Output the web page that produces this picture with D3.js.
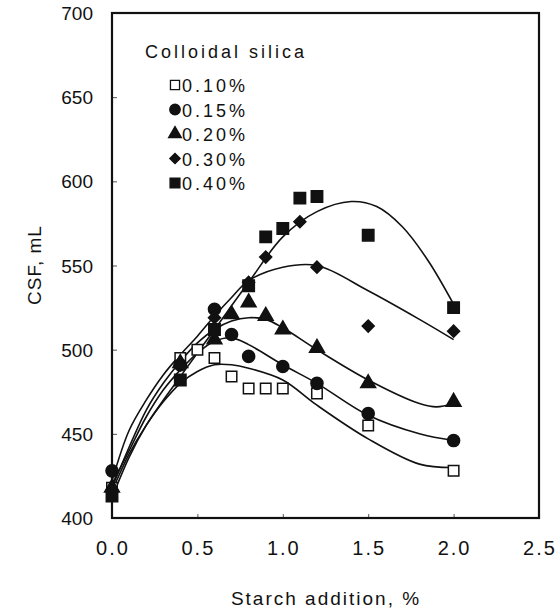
<!DOCTYPE html>
<html>
<head>
<meta charset="utf-8">
<script src="https://cdn.jsdelivr.net/npm/d3@7"></script>
<style>
  body { margin: 0; background: #fff; }
  svg text { font-family: "Liberation Sans", Arial, sans-serif; fill: #111; }
</style>
</head>
<body>
<div id="chart"></div>
<script>
// measured points, [starch %, CSF mL]
const silica = ["0.10%", "0.15%", "0.20%", "0.30%", "0.40%"];

const pts010 = [[0,418],[0.4,495],[0.5,500],[0.6,495],[0.7,484],[0.8,477],[0.9,477],[1.0,477],[1.2,474],[1.5,455],[2.0,428]];
const pts015 = [[0,428],[0.4,491],[0.6,524],[0.7,509],[0.8,496],[1.0,490],[1.2,480],[1.5,462],[2.0,446]];
const pts020 = [[0,418],[0.4,492],[0.6,506],[0.7,521],[0.8,528],[0.9,520],[1.0,512],[1.2,501],[1.5,480],[2.0,469]];
const pts030 = [[0,416],[0.4,491],[0.6,519],[0.8,540],[0.9,555],[1.1,576],[1.2,549],[1.5,514],[2.0,511]];
const pts040 = [[0,413],[0.4,482],[0.6,512],[0.8,538],[0.9,567],[1.0,572],[1.1,590],[1.2,591],[1.5,568],[2.0,525]];

// fitted curves
const fit010 = [[0,416],[0.1,438],[0.2,455],[0.3,469],[0.4,480],[0.5,487],[0.6,491],[0.7,491],[0.8,489],[1.0,482],[1.2,467],[1.5,447],[1.8,432],[2.0,430]];
const fit015 = [[0,420],[0.1,440],[0.2,460],[0.3,476],[0.4,488],[0.5,498],[0.6,505],[0.7,507],[0.8,503],[1.0,491],[1.2,480],[1.5,461],[1.8,450],[2.0,446]];
const fit020 = [[0,418],[0.1,442],[0.2,464],[0.3,480],[0.4,493],[0.5,504],[0.6,512],[0.7,517],[0.8,519],[0.9,518],[1.0,513],[1.2,500],[1.5,482],[1.8,468],[1.9,466],[2.0,468]];
const fit030 = [[0,422],[0.1,452],[0.2,470],[0.3,485],[0.4,497],[0.5,508],[0.6,520],[0.7,531],[0.8,541],[1.0,549],[1.2,550],[1.5,535],[1.8,518],[2.0,506]];
const fit040 = [[0,412],[0.1,436],[0.2,455],[0.3,470],[0.4,484],[0.6,512],[0.8,540],[1.0,567],[1.2,582],[1.4,588],[1.55,585],[1.7,573],[1.85,553],[2.0,527]];

const xTicks = [0, 0.5, 1.0, 1.5, 2.0, 2.5];
const yTicks = [400, 450, 500, 550, 600, 650, 700];

const points = [pts010, pts015, pts020, pts030, pts040];
const fits = [fit010, fit015, fit020, fit030, fit040];

const width = 557, height = 612;
const plot = {left: 112, right: 539, top: 13, bottom: 518};

const svg = d3.select("#chart").append("svg")
    .attr("width", width)
    .attr("height", height);

const x = d3.scaleLinear().domain([0, 2.5]).range([plot.left, plot.right]);
const y = d3.scaleLinear().domain([400, 700]).range([plot.bottom, plot.top]);

// marker styles per series
const markers = [
  {type: d3.symbolSquare, size: 110, fill: "#fff", rot: 0},
  {type: d3.symbolCircle, size: 115, fill: "#111", rot: 0},
  {type: d3.symbolTriangle, size: 95, fill: "#111", rot: 0},
  {type: d3.symbolSquare, size: 72, fill: "#111", rot: 45},
  {type: d3.symbolSquare, size: 130, fill: "#111", rot: 0}
];

// inner ticks
svg.append("g")
    .attr("transform", `translate(0,${plot.bottom})`)
    .call(d3.axisTop(x).tickValues(xTicks.slice(1, -1)).tickSize(4).tickFormat(""))
    .call(g => g.select(".domain").remove())
    .selectAll("line").attr("stroke", "#555");

svg.append("g")
    .attr("transform", `translate(${plot.left},0)`)
    .call(d3.axisRight(y).tickValues(yTicks.slice(1, -1)).tickSize(5).tickFormat(""))
    .call(g => g.select(".domain").remove())
    .selectAll("line").attr("stroke", "#555");

// tick labels
svg.append("g").selectAll("text")
    .data(xTicks)
    .join("text")
    .attr("x", d => x(d) + 1)
    .attr("y", 555)
    .attr("text-anchor", "middle")
    .style("font-size", "20px")
    .style("letter-spacing", "2px")
    .text(d => d3.format(".1f")(d));

svg.append("g").selectAll("text")
    .data(yTicks)
    .join("text")
    .attr("x", 93)
    .attr("y", d => y(d) + 7)
    .attr("text-anchor", "end")
    .style("font-size", "19px")
    .text(d => d);

// axis titles
svg.append("text")
    .attr("x", 326)
    .attr("y", 605)
    .attr("text-anchor", "middle")
    .style("font-size", "19px")
    .style("letter-spacing", "2px")
    .text("Starch addition, %");

svg.append("text")
    .attr("transform", "translate(41,265) rotate(-90)")
    .attr("text-anchor", "middle")
    .style("font-size", "19px")
    .style("letter-spacing", "1px")
    .text("CSF, mL");

// fitted curves
const line = d3.line()
    .x(d => x(d[0]))
    .y(d => y(d[1]))
    .curve(d3.curveCatmullRom.alpha(0.5));

svg.append("g").selectAll("path")
    .data(fits)
    .join("path")
    .attr("d", d => line(d))
    .attr("fill", "none")
    .attr("stroke", "#111")
    .attr("stroke-width", 1.6);

// data markers
points.forEach((series, i) => {
  const m = markers[i];
  svg.append("g").selectAll("path")
      .data(series)
      .join("path")
      .attr("transform", d => `translate(${x(d[0])},${y(d[1])}) rotate(${m.rot})`)
      .attr("d", d3.symbol().type(m.type).size(m.size))
      .attr("fill", m.fill)
      .attr("stroke", "#111")
      .attr("stroke-width", 1.5);
});

// frame
svg.append("rect")
    .attr("x", plot.left)
    .attr("y", plot.top)
    .attr("width", plot.right - plot.left)
    .attr("height", plot.bottom - plot.top)
    .attr("fill", "none")
    .attr("stroke", "#111")
    .attr("stroke-width", 2.2);

// legend
const legend = svg.append("g");
legend.append("text")
    .attr("x", 145)
    .attr("y", 58)
    .style("font-size", "18px")
    .style("letter-spacing", "3px")
    .text("Colloidal silica");

silica.forEach((label, i) => {
  const m = markers[i];
  const cy = 85 + i * 24.5;
  legend.append("path")
      .attr("transform", `translate(175,${cy}) rotate(${m.rot})`)
      .attr("d", d3.symbol().type(m.type).size(m.size * 0.75))
      .attr("fill", m.fill)
      .attr("stroke", "#111")
      .attr("stroke-width", 1.3);
  legend.append("text")
      .attr("x", 182)
      .attr("y", cy + 7)
      .style("font-size", "18px")
      .style("letter-spacing", "3px")
      .text(label);
});
</script>
</body>
</html>
